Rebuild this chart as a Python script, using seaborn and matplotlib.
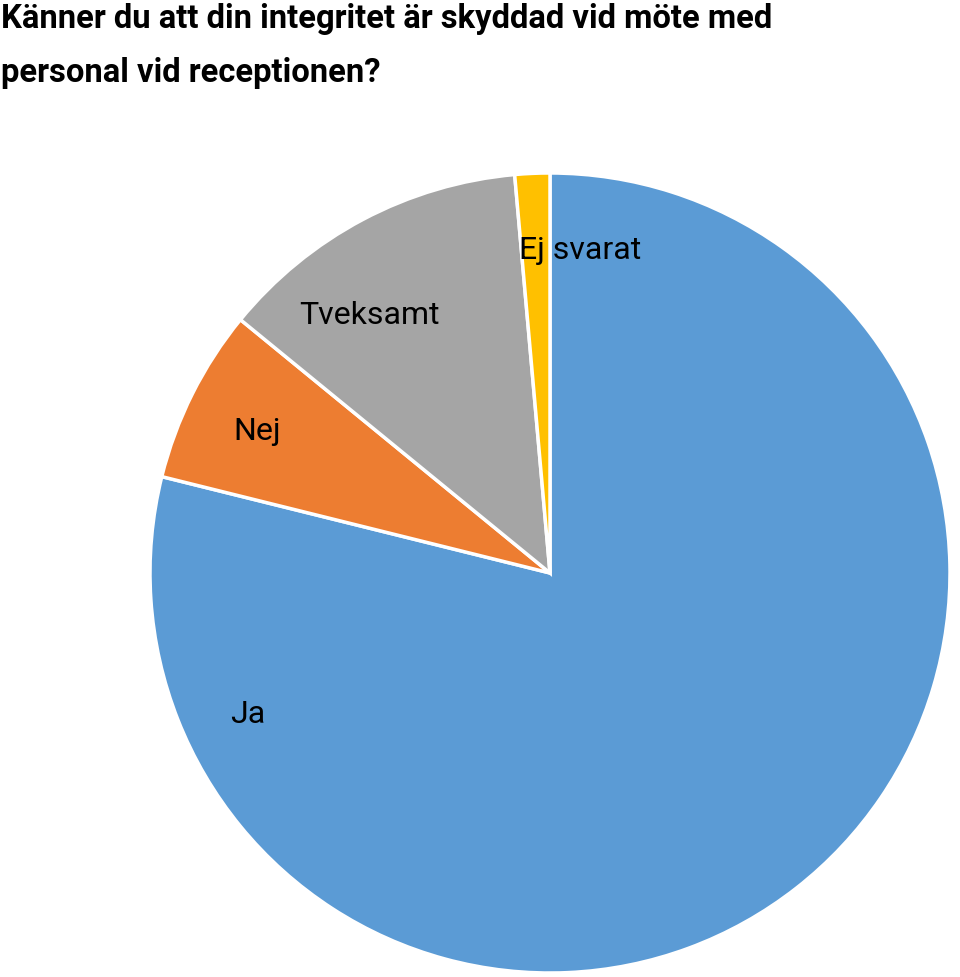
import matplotlib
matplotlib.use("Agg")
import matplotlib.pyplot as plt
import seaborn as sns

categories = ["Ja", "Nej", "Tveksamt", "Ej svarat"]
counts = [56, 5, 9, 1]
colors = ["#5B9BD5", "#ED7D31", "#A5A5A5", "#FFC000"]
# label positions in pie coordinates (radius = 1)
label_xy = [(-0.755, -0.352), (-0.733, 0.355), (-0.452, 0.645), (0.075, 0.808)]

title = "Känner du att din integritet är skyddad vid möte med\npersonal vid receptionen?"

sns.set_style("white")
plt.rcParams["font.family"] = ["Roboto", "DejaVu Sans"]

fig = plt.figure(figsize=(9.6, 9.78), dpi=100)
ax = fig.add_axes([150 / 960, 4 / 978, 800 / 960, 800 / 978])

ax.pie(counts, colors=colors, startangle=90, counterclock=False,
       wedgeprops=dict(edgecolor="white", linewidth=2.5), radius=1)
ax.set_xlim(-1.0, 1.0)
ax.set_ylim(-1.0, 1.0)
ax.set_aspect("equal")
ax.axis("off")

for name, (x, y) in zip(categories, label_xy):
    ax.text(x, y, name, ha="center", va="center", fontsize=23, color="black")

fig.text(0.001, 0.997, title, ha="left", va="top", fontsize=23.6,
         fontweight="bold", linespacing=1.9, color="black")

fig.savefig("out.png", dpi=100)
